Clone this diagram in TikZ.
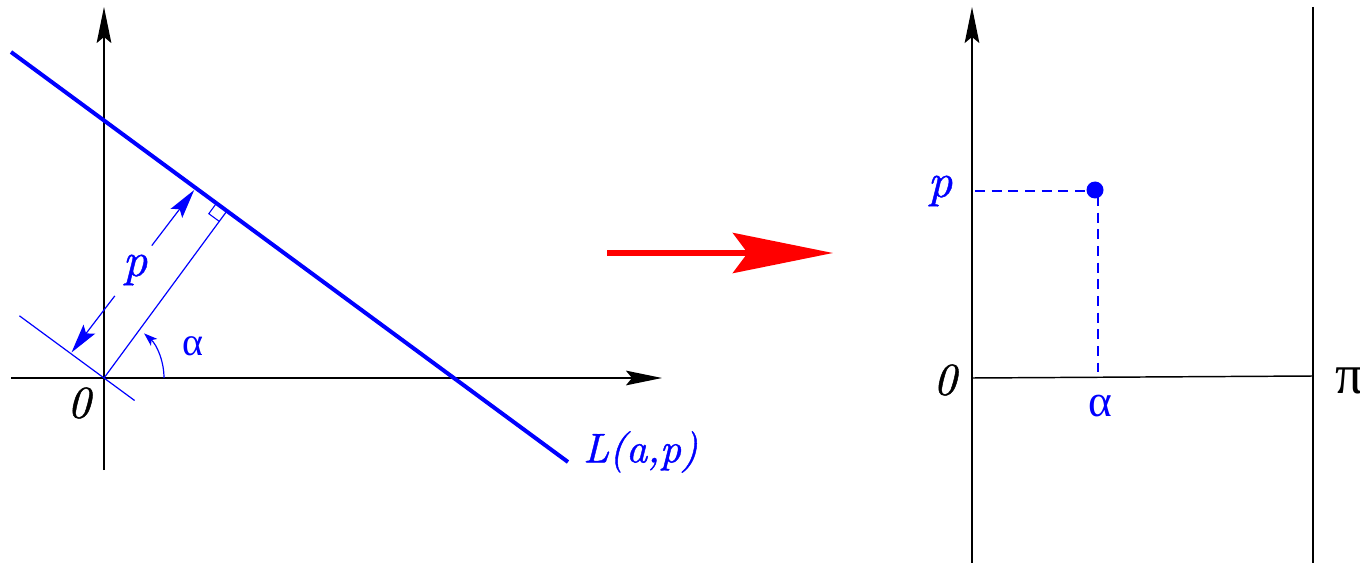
\documentclass[tikz,border=0pt]{standalone}
\usepackage{fontspec}
\newfontfamily\tms{Liberation Serif}
\newfontfamily\lmit{lmroman10-italic.otf}[FakeBold=1]
\usetikzlibrary{arrows.meta}
\begin{document}
\begin{tikzpicture}[x=0.75pt,y=-0.75pt,
  axis/.style={line width=1.1pt, black},
  axtip/.style={-{Stealth[length=27pt,width=11pt,inset=4.5pt]}},
  thickline/.style={line width=3pt, blue},
  thinline/.style={line width=0.9pt, blue},
  dimtip/.style={-{Stealth[length=22pt,width=11pt,inset=4pt]}},
  dashline/.style={line width=1pt, blue, dash pattern=on 7.5pt off 5pt},
  lbl/.style={inner sep=0pt, font=\lmit\fontsize{#1}{40}\selectfont},
  lbl/.default=34,
  greek/.style={inner sep=0pt, font=\tms\fontsize{#1}{40}\selectfont}]
\useasboundingbox (0,0) rectangle (1360,563);
% ---------- left panel ----------
\coordinate (O) at (104,378);
\coordinate (Yb) at (104,470);
\coordinate (Yt) at (104,7);
\coordinate (Xl) at (11,378);
\coordinate (Xr) at (662,378);
\draw[axis,axtip] (Yb) -- (Yt);
\draw[axis,axtip] (Xl) -- (Xr);
% line L
\coordinate (LA) at (11,52);
\coordinate (LB) at (568,462);
\draw[thickline] (LA) -- (LB);
% parallel through O
\coordinate (QA) at (19.4,315.8);
\coordinate (QB) at (134.6,400.5);
\draw[thinline] (QA) -- (QB);
% perpendicular
\coordinate (F) at (226.96,210.94);
\draw[thinline] (O) -- (F);
% right angle mark
\coordinate (R1) at (216.5,203.2);
\coordinate (R2) at (208.8,213.7);
\coordinate (R3) at (219.3,221.4);
\draw[thinline,line width=0.8pt] (R1) -- (R2) -- (R3);
% dimension arrows
\coordinate (P1s) at (151.8,245.6);
\coordinate (P1) at (194.2,190.0);
\coordinate (P2s) at (114.8,295.9);
\coordinate (P2) at (71.5,352.5);
\draw[thinline,dimtip] (P1s) -- (P1);
\draw[thinline,dimtip] (P2s) -- (P2);
\node[lbl=36,text=blue] (plbl) at (135,270) {p};
% alpha arc
\coordinate (As) at (164,378);
\draw[thinline,-{Stealth[length=10pt,width=7pt,inset=2.5pt]}] (As) arc[start angle=0,end angle=-48,radius=60];
\node[greek=30, text=blue] (alab) at (193,346) {α};
\node[lbl=34] (olab) at (79,403) {0};
\node[lbl=31,text=blue,anchor=west] (Llab) at (583,452) {L(a,p)};
% ---------- red arrow ----------
\coordinate (Ra) at (607,253);
\coordinate (Rb) at (833,253);
\draw[red,line width=4.5pt,-{Stealth[length=75pt,width=30pt,inset=11pt]}] (Ra) -- (Rb);
% ---------- right panel ----------
\coordinate (O2) at (972,378);
\coordinate (Y2b) at (972,563);
\coordinate (Y2t) at (972,7);
\coordinate (X2r) at (1313,376);
\coordinate (Vt) at (1313,7);
\coordinate (Vb) at (1313,563);
\draw[axis,axtip] (Y2b) -- (Y2t);
\draw[axis] (O2) -- (X2r);
\draw[axis] (Vt) -- (Vb);
\node[circle, fill=blue, inner sep=0pt, minimum size=12.75pt] (dot) at (1095,190) {};
\coordinate (Hl) at (975,191);
\coordinate (Hr) at (1088,191);
\coordinate (Vdt) at (1098,196);
\coordinate (Vdb) at (1098,372);
\draw[dashline] (Hl) -- (Hr);
\draw[dashline] (Vdt) -- (Vdb);
\node[lbl=36,text=blue] (p2lab) at (940,191) {p};
\node[lbl=34] (o2lab) at (945,380) {0};
\node[greek=34, text=blue] (a2lab) at (1100,406) {α};
\node[greek=42] (pilab) at (1350,381) {π};
\end{tikzpicture}
\end{document}
